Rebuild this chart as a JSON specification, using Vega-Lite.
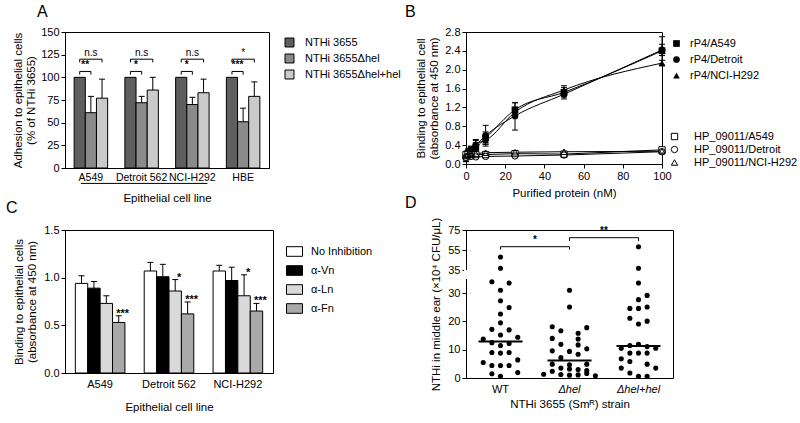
{
  "$schema": "https://vega.github.io/schema/vega-lite/v6.json",
  "background": "white",
  "padding": {"left": 5, "top": 3, "right": 2, "bottom": 2},
  "config": {
    "font": "Liberation Sans",
    "view": {"stroke": "black", "strokeWidth": 1},
    "text": {"color": "black"},
    "axis": {"domainColor": "black", "tickColor": "black", "labelColor": "black", "titleColor": "black", "labelFontSize": 11, "titleFontSize": 11.5, "titleFontWeight": "normal", "grid": false, "tickSize": 4, "labelPadding": 2, "labelOverlap": false},
    "legend": {"labelFontSize": 11, "labelColor": "black", "labelFont": "Liberation Sans"},
    "title": {"fontSize": 16, "fontWeight": "normal", "anchor": "start", "frame": "group", "color": "black"}
  },
  "datasets": {
    "adhesion": [
      {"cell": "A549", "strain": "NTHi 3655", "mean": 100, "upper": null},
      {"cell": "A549", "strain": "NTHi 3655Δhel", "mean": 61, "upper": 79},
      {"cell": "A549", "strain": "NTHi 3655Δhel+hel", "mean": 77, "upper": 98},
      {"cell": "Detroit 562", "strain": "NTHi 3655", "mean": 100, "upper": null},
      {"cell": "Detroit 562", "strain": "NTHi 3655Δhel", "mean": 72, "upper": 79},
      {"cell": "Detroit 562", "strain": "NTHi 3655Δhel+hel", "mean": 86, "upper": 100},
      {"cell": "NCI-H292", "strain": "NTHi 3655", "mean": 100, "upper": null},
      {"cell": "NCI-H292", "strain": "NTHi 3655Δhel", "mean": 70, "upper": 78},
      {"cell": "NCI-H292", "strain": "NTHi 3655Δhel+hel", "mean": 83, "upper": 98},
      {"cell": "HBE", "strain": "NTHi 3655", "mean": 100, "upper": null},
      {"cell": "HBE", "strain": "NTHi 3655Δhel", "mean": 51, "upper": 66},
      {"cell": "HBE", "strain": "NTHi 3655Δhel+hel", "mean": 79, "upper": 95}
    ],
    "aBrackets": [
      {"id": "A549-l", "cell": "A549", "strain": "NTHi 3655", "y": 103, "ord": 0},
      {"id": "A549-l", "cell": "A549", "strain": "NTHi 3655", "y": 106.5, "ord": 1},
      {"id": "A549-l", "cell": "A549", "strain": "NTHi 3655Δhel", "y": 106.5, "ord": 2},
      {"id": "A549-l", "cell": "A549", "strain": "NTHi 3655Δhel", "y": 103, "ord": 3},
      {"id": "A549-u", "cell": "A549", "strain": "NTHi 3655", "y": 116.5, "ord": 0},
      {"id": "A549-u", "cell": "A549", "strain": "NTHi 3655", "y": 120, "ord": 1},
      {"id": "A549-u", "cell": "A549", "strain": "NTHi 3655Δhel+hel", "y": 120, "ord": 2},
      {"id": "A549-u", "cell": "A549", "strain": "NTHi 3655Δhel+hel", "y": 116.5, "ord": 3},
      {"id": "Det-l", "cell": "Detroit 562", "strain": "NTHi 3655", "y": 103, "ord": 0},
      {"id": "Det-l", "cell": "Detroit 562", "strain": "NTHi 3655", "y": 106.5, "ord": 1},
      {"id": "Det-l", "cell": "Detroit 562", "strain": "NTHi 3655Δhel", "y": 106.5, "ord": 2},
      {"id": "Det-l", "cell": "Detroit 562", "strain": "NTHi 3655Δhel", "y": 103, "ord": 3},
      {"id": "Det-u", "cell": "Detroit 562", "strain": "NTHi 3655", "y": 116.5, "ord": 0},
      {"id": "Det-u", "cell": "Detroit 562", "strain": "NTHi 3655", "y": 120, "ord": 1},
      {"id": "Det-u", "cell": "Detroit 562", "strain": "NTHi 3655Δhel+hel", "y": 120, "ord": 2},
      {"id": "Det-u", "cell": "Detroit 562", "strain": "NTHi 3655Δhel+hel", "y": 116.5, "ord": 3},
      {"id": "NCI-l", "cell": "NCI-H292", "strain": "NTHi 3655", "y": 103, "ord": 0},
      {"id": "NCI-l", "cell": "NCI-H292", "strain": "NTHi 3655", "y": 106.5, "ord": 1},
      {"id": "NCI-l", "cell": "NCI-H292", "strain": "NTHi 3655Δhel", "y": 106.5, "ord": 2},
      {"id": "NCI-l", "cell": "NCI-H292", "strain": "NTHi 3655Δhel", "y": 103, "ord": 3},
      {"id": "NCI-u", "cell": "NCI-H292", "strain": "NTHi 3655", "y": 116.5, "ord": 0},
      {"id": "NCI-u", "cell": "NCI-H292", "strain": "NTHi 3655", "y": 120, "ord": 1},
      {"id": "NCI-u", "cell": "NCI-H292", "strain": "NTHi 3655Δhel+hel", "y": 120, "ord": 2},
      {"id": "NCI-u", "cell": "NCI-H292", "strain": "NTHi 3655Δhel+hel", "y": 116.5, "ord": 3},
      {"id": "HBE-l", "cell": "HBE", "strain": "NTHi 3655", "y": 103, "ord": 0},
      {"id": "HBE-l", "cell": "HBE", "strain": "NTHi 3655", "y": 106.5, "ord": 1},
      {"id": "HBE-l", "cell": "HBE", "strain": "NTHi 3655Δhel", "y": 106.5, "ord": 2},
      {"id": "HBE-l", "cell": "HBE", "strain": "NTHi 3655Δhel", "y": 103, "ord": 3},
      {"id": "HBE-u", "cell": "HBE", "strain": "NTHi 3655", "y": 116.5, "ord": 0},
      {"id": "HBE-u", "cell": "HBE", "strain": "NTHi 3655", "y": 120, "ord": 1},
      {"id": "HBE-u", "cell": "HBE", "strain": "NTHi 3655Δhel+hel", "y": 120, "ord": 2},
      {"id": "HBE-u", "cell": "HBE", "strain": "NTHi 3655Δhel+hel", "y": 116.5, "ord": 3}
    ],
    "aPairLabels": [
      {"cell": "A549", "strain": "NTHi 3655", "y": 106.5, "label": "**"},
      {"cell": "Detroit 562", "strain": "NTHi 3655", "y": 106.5, "label": "*"},
      {"cell": "NCI-H292", "strain": "NTHi 3655", "y": 106.5, "label": "*"},
      {"cell": "HBE", "strain": "NTHi 3655", "y": 106.5, "label": "***"}
    ],
    "aSpanLabels": [
      {"cell": "A549", "strain": "NTHi 3655Δhel", "y": 120, "label": "n.s"},
      {"cell": "Detroit 562", "strain": "NTHi 3655Δhel", "y": 120, "label": "n.s"},
      {"cell": "NCI-H292", "strain": "NTHi 3655Δhel", "y": 120, "label": "n.s"},
      {"cell": "HBE", "strain": "NTHi 3655Δhel", "y": 120, "label": "*"}
    ],
    "aUnderline": [{"from": "A549", "to": "NCI-H292", "y": -17}],
    "rp4": [
      {"series": "rP4/A549", "conc": 0, "mean": 0.15, "lo": 0.1, "hi": 0.2},
      {"series": "rP4/A549", "conc": 1, "mean": 0.2, "lo": 0.14, "hi": 0.26},
      {"series": "rP4/A549", "conc": 2.5, "mean": 0.28, "lo": 0.2, "hi": 0.36},
      {"series": "rP4/A549", "conc": 5, "mean": 0.35, "lo": 0.25, "hi": 0.45},
      {"series": "rP4/A549", "conc": 10, "mean": 0.55, "lo": 0.42, "hi": 0.68},
      {"series": "rP4/A549", "conc": 25, "mean": 1.15, "lo": 1.0, "hi": 1.3},
      {"series": "rP4/A549", "conc": 50, "mean": 1.52, "lo": 1.42, "hi": 1.62},
      {"series": "rP4/A549", "conc": 100, "mean": 2.4, "lo": 2.1, "hi": 2.7},
      {"series": "rP4/Detroit", "conc": 0, "mean": 0.14, "lo": 0.1, "hi": 0.18},
      {"series": "rP4/Detroit", "conc": 1, "mean": 0.25, "lo": 0.18, "hi": 0.32},
      {"series": "rP4/Detroit", "conc": 2.5, "mean": 0.3, "lo": 0.22, "hi": 0.38},
      {"series": "rP4/Detroit", "conc": 5, "mean": 0.4, "lo": 0.3, "hi": 0.5},
      {"series": "rP4/Detroit", "conc": 10, "mean": 0.6, "lo": 0.38, "hi": 0.82},
      {"series": "rP4/Detroit", "conc": 25, "mean": 1.02, "lo": 0.72, "hi": 1.3},
      {"series": "rP4/Detroit", "conc": 50, "mean": 1.48, "lo": 1.38, "hi": 1.58},
      {"series": "rP4/Detroit", "conc": 100, "mean": 2.42, "lo": 2.3, "hi": 2.54},
      {"series": "rP4/NCI-H292", "conc": 0, "mean": 0.1, "lo": 0.06, "hi": 0.14},
      {"series": "rP4/NCI-H292", "conc": 1, "mean": 0.21, "lo": 0.15, "hi": 0.27},
      {"series": "rP4/NCI-H292", "conc": 2.5, "mean": 0.3, "lo": 0.24, "hi": 0.36},
      {"series": "rP4/NCI-H292", "conc": 5, "mean": 0.43, "lo": 0.36, "hi": 0.52},
      {"series": "rP4/NCI-H292", "conc": 10, "mean": 0.5, "lo": 0.42, "hi": 0.58},
      {"series": "rP4/NCI-H292", "conc": 25, "mean": 1.1, "lo": 1.0, "hi": 1.2},
      {"series": "rP4/NCI-H292", "conc": 50, "mean": 1.57, "lo": 1.5, "hi": 1.66},
      {"series": "rP4/NCI-H292", "conc": 100, "mean": 2.14, "lo": 2.08, "hi": 2.2}
    ],
    "hp": [
      {"series": "HP_09011/A549", "conc": 0, "mean": 0.2},
      {"series": "HP_09011/A549", "conc": 1, "mean": 0.22},
      {"series": "HP_09011/A549", "conc": 2.5, "mean": 0.2},
      {"series": "HP_09011/A549", "conc": 5, "mean": 0.2},
      {"series": "HP_09011/A549", "conc": 10, "mean": 0.2},
      {"series": "HP_09011/A549", "conc": 25, "mean": 0.22},
      {"series": "HP_09011/A549", "conc": 50, "mean": 0.21},
      {"series": "HP_09011/A549", "conc": 100, "mean": 0.3},
      {"series": "HP_09011/Detroit", "conc": 0, "mean": 0.14},
      {"series": "HP_09011/Detroit", "conc": 1, "mean": 0.17},
      {"series": "HP_09011/Detroit", "conc": 2.5, "mean": 0.16},
      {"series": "HP_09011/Detroit", "conc": 5, "mean": 0.15},
      {"series": "HP_09011/Detroit", "conc": 10, "mean": 0.16},
      {"series": "HP_09011/Detroit", "conc": 25, "mean": 0.17},
      {"series": "HP_09011/Detroit", "conc": 50, "mean": 0.19},
      {"series": "HP_09011/Detroit", "conc": 100, "mean": 0.26},
      {"series": "HP_09011/NCI-H292", "conc": 0, "mean": 0.17},
      {"series": "HP_09011/NCI-H292", "conc": 1, "mean": 0.2},
      {"series": "HP_09011/NCI-H292", "conc": 2.5, "mean": 0.22},
      {"series": "HP_09011/NCI-H292", "conc": 5, "mean": 0.22},
      {"series": "HP_09011/NCI-H292", "conc": 10, "mean": 0.24},
      {"series": "HP_09011/NCI-H292", "conc": 25, "mean": 0.25},
      {"series": "HP_09011/NCI-H292", "conc": 50, "mean": 0.26},
      {"series": "HP_09011/NCI-H292", "conc": 100, "mean": 0.27}
    ],
    "inhib": [
      {"cell": "A549", "treat": "No Inhibition", "mean": 0.94, "upper": 1.02},
      {"cell": "A549", "treat": "α-Vn", "mean": 0.89, "upper": 0.96},
      {"cell": "A549", "treat": "α-Ln", "mean": 0.73, "upper": 0.81},
      {"cell": "A549", "treat": "α-Fn", "mean": 0.53, "upper": 0.6},
      {"cell": "Detroit 562", "treat": "No Inhibition", "mean": 1.07, "upper": 1.16},
      {"cell": "Detroit 562", "treat": "α-Vn", "mean": 1.01, "upper": 1.14},
      {"cell": "Detroit 562", "treat": "α-Ln", "mean": 0.86, "upper": 0.98},
      {"cell": "Detroit 562", "treat": "α-Fn", "mean": 0.62, "upper": 0.745},
      {"cell": "NCI-H292", "treat": "No Inhibition", "mean": 1.07, "upper": 1.13},
      {"cell": "NCI-H292", "treat": "α-Vn", "mean": 0.97, "upper": 1.11},
      {"cell": "NCI-H292", "treat": "α-Ln", "mean": 0.81, "upper": 1.03},
      {"cell": "NCI-H292", "treat": "α-Fn", "mean": 0.65, "upper": 0.73}
    ],
    "cStars": [
      {"cell": "A549", "treat": "α-Fn", "y": 0.6, "label": "***"},
      {"cell": "Detroit 562", "treat": "α-Ln", "y": 0.98, "label": "*"},
      {"cell": "Detroit 562", "treat": "α-Fn", "y": 0.745, "label": "***"},
      {"cell": "NCI-H292", "treat": "α-Ln", "y": 1.03, "label": "*"},
      {"cell": "NCI-H292", "treat": "α-Fn", "y": 0.73, "label": "***"}
    ],
    "dPoints": [
      {"strain": "WT", "cfu": 48, "col": 0}, {"strain": "WT", "cfu": 36.7, "col": 0},
      {"strain": "WT", "cfu": 34, "col": -1}, {"strain": "WT", "cfu": 33.6, "col": 1},
      {"strain": "WT", "cfu": 31, "col": 0}, {"strain": "WT", "cfu": 27.3, "col": 0},
      {"strain": "WT", "cfu": 24.9, "col": 1}, {"strain": "WT", "cfu": 22.6, "col": 0},
      {"strain": "WT", "cfu": 19.5, "col": 0}, {"strain": "WT", "cfu": 17.2, "col": -1},
      {"strain": "WT", "cfu": 17, "col": 1}, {"strain": "WT", "cfu": 15.2, "col": 0},
      {"strain": "WT", "cfu": 13.8, "col": -2}, {"strain": "WT", "cfu": 14.4, "col": 2},
      {"strain": "WT", "cfu": 12.5, "col": -1}, {"strain": "WT", "cfu": 12.2, "col": 1},
      {"strain": "WT", "cfu": 11.5, "col": 0}, {"strain": "WT", "cfu": 9, "col": -1},
      {"strain": "WT", "cfu": 8.8, "col": 0}, {"strain": "WT", "cfu": 9, "col": 1},
      {"strain": "WT", "cfu": 6.4, "col": 2}, {"strain": "WT", "cfu": 5.5, "col": -2},
      {"strain": "WT", "cfu": 4.4, "col": -1}, {"strain": "WT", "cfu": 4.4, "col": 0},
      {"strain": "WT", "cfu": 4.4, "col": 1}, {"strain": "WT", "cfu": 1.5, "col": -1},
      {"strain": "WT", "cfu": 0.6, "col": 0}, {"strain": "WT", "cfu": 1.9, "col": 2},
      {"strain": "Δhel", "cfu": 31, "col": 0}, {"strain": "Δhel", "cfu": 25.1, "col": 0},
      {"strain": "Δhel", "cfu": 18.1, "col": -2}, {"strain": "Δhel", "cfu": 17.8, "col": 2},
      {"strain": "Δhel", "cfu": 16.7, "col": -1}, {"strain": "Δhel", "cfu": 15.8, "col": 1},
      {"strain": "Δhel", "cfu": 14, "col": -2}, {"strain": "Δhel", "cfu": 13.8, "col": 1},
      {"strain": "Δhel", "cfu": 11.9, "col": -1}, {"strain": "Δhel", "cfu": 11.7, "col": 1},
      {"strain": "Δhel", "cfu": 10.3, "col": 2}, {"strain": "Δhel", "cfu": 9.6, "col": -2},
      {"strain": "Δhel", "cfu": 9.4, "col": 0}, {"strain": "Δhel", "cfu": 8.4, "col": 1},
      {"strain": "Δhel", "cfu": 7.2, "col": -1}, {"strain": "Δhel", "cfu": 4.9, "col": -2},
      {"strain": "Δhel", "cfu": 4.7, "col": 0}, {"strain": "Δhel", "cfu": 4.9, "col": 2},
      {"strain": "Δhel", "cfu": 3.5, "col": -1}, {"strain": "Δhel", "cfu": 3.2, "col": 0},
      {"strain": "Δhel", "cfu": 3, "col": 1}, {"strain": "Δhel", "cfu": 2.4, "col": -2},
      {"strain": "Δhel", "cfu": 2.6, "col": 2}, {"strain": "Δhel", "cfu": 1.3, "col": -3},
      {"strain": "Δhel", "cfu": 1.2, "col": -1}, {"strain": "Δhel", "cfu": 1, "col": 0},
      {"strain": "Δhel", "cfu": 1.1, "col": 1}, {"strain": "Δhel", "cfu": 0.8, "col": 3},
      {"strain": "Δhel", "cfu": 1.6, "col": 2},
      {"strain": "Δhel+hel", "cfu": 58.3, "col": 0}, {"strain": "Δhel+hel", "cfu": 36.7, "col": 0},
      {"strain": "Δhel+hel", "cfu": 33.6, "col": 0}, {"strain": "Δhel+hel", "cfu": 29.2, "col": 1},
      {"strain": "Δhel+hel", "cfu": 27.7, "col": 0}, {"strain": "Δhel+hel", "cfu": 24.6, "col": -1},
      {"strain": "Δhel+hel", "cfu": 24.6, "col": 0}, {"strain": "Δhel+hel", "cfu": 25.1, "col": 1},
      {"strain": "Δhel+hel", "cfu": 21.1, "col": -1}, {"strain": "Δhel+hel", "cfu": 20.1, "col": 1},
      {"strain": "Δhel+hel", "cfu": 19.1, "col": 0}, {"strain": "Δhel+hel", "cfu": 11.9, "col": 0},
      {"strain": "Δhel+hel", "cfu": 11.5, "col": -1}, {"strain": "Δhel+hel", "cfu": 11.1, "col": 1},
      {"strain": "Δhel+hel", "cfu": 10.5, "col": -2}, {"strain": "Δhel+hel", "cfu": 10.5, "col": 2},
      {"strain": "Δhel+hel", "cfu": 8.8, "col": -1}, {"strain": "Δhel+hel", "cfu": 8.8, "col": 0},
      {"strain": "Δhel+hel", "cfu": 8.8, "col": 1}, {"strain": "Δhel+hel", "cfu": 6.8, "col": -2},
      {"strain": "Δhel+hel", "cfu": 5.8, "col": -1}, {"strain": "Δhel+hel", "cfu": 4.9, "col": 1},
      {"strain": "Δhel+hel", "cfu": 3.5, "col": -2}, {"strain": "Δhel+hel", "cfu": 3.5, "col": 2},
      {"strain": "Δhel+hel", "cfu": 1.75, "col": -1}, {"strain": "Δhel+hel", "cfu": 0.6, "col": 0},
      {"strain": "Δhel+hel", "cfu": 0.6, "col": 1}
    ],
    "dMedian": [
      {"strain": "WT", "cfu": 12.9},
      {"strain": "Δhel", "cfu": 6.2},
      {"strain": "Δhel+hel", "cfu": 11.3}
    ],
    "dBrackets": [
      {"id": "b1", "strain": "WT", "cfu": 55.5, "ord": 0},
      {"id": "b1", "strain": "WT", "cfu": 58.3, "ord": 1},
      {"id": "b1", "strain": "Δhel", "cfu": 58.3, "ord": 2},
      {"id": "b1", "strain": "Δhel", "cfu": 55.5, "ord": 3},
      {"id": "b2", "strain": "Δhel", "cfu": 64, "ord": 0},
      {"id": "b2", "strain": "Δhel", "cfu": 67.3, "ord": 1},
      {"id": "b2", "strain": "Δhel+hel", "cfu": 67.3, "ord": 2},
      {"id": "b2", "strain": "Δhel+hel", "cfu": 64, "ord": 3}
    ],
    "dLabels": [
      {"strain": "WT", "cfu": 58.3, "label": "*"},
      {"strain": "Δhel", "cfu": 67.3, "label": "**"}
    ],
    "dBreak": [{"strain": "WT", "from": 34.99, "to": 35}]
  },
  "columns": 2,
  "bounds": "flush",
  "align": "each",
  "spacing": {"row": 62, "column": 193},
  "resolve": {"scale": {"xOffset": "independent", "fill": "independent", "shape": "independent"}, "legend": {"fill": "independent", "shape": "independent"}},
  "concat": [
    {
      "width": 204,
      "height": 136,
      "title": {"text": "A", "dx": -28, "offset": 6},
      "layer": [
        {
          "data": {"name": "adhesion"},
          "mark": {"type": "bar", "stroke": "black", "strokeWidth": 1},
          "encoding": {
            "x": {"field": "cell", "type": "nominal", "scale": {"domain": ["A549", "Detroit 562", "NCI-H292", "HBE"], "paddingInner": 0.34, "paddingOuter": 0.18}, "axis": {"title": "Epithelial cell line", "labelAngle": 0, "ticks": false, "titlePadding": 10, "labelPadding": 4, "labelFontSize": 10.5, "labelOverlap": false}},
            "xOffset": {"field": "strain", "type": "nominal", "scale": {"domain": ["NTHi 3655", "NTHi 3655Δhel", "NTHi 3655Δhel+hel"], "paddingInner": 0, "paddingOuter": 0}},
            "y": {"field": "mean", "type": "quantitative", "scale": {"domain": [0, 150], "nice": false}, "axis": {"values": [0, 25, 50, 75, 100, 125, 150], "tickCount": 20, "title": ["Adhesion to epithelial cells", "(% of NTHi 3655)"], "titlePadding": 4, "labelOverlap": false}},
            "fill": {"field": "strain", "type": "nominal", "scale": {"domain": ["NTHi 3655", "NTHi 3655Δhel", "NTHi 3655Δhel+hel"], "range": ["#5f5f5f", "#8a8a8a", "#cacaca"]}, "legend": {"title": null, "offset": 10, "padding": 5, "symbolType": "square", "symbolSize": 80, "symbolStrokeColor": "black", "symbolStrokeWidth": 1, "rowPadding": 3, "labelOffset": 10}}
          }
        },
        {
          "data": {"name": "adhesion"},
          "transform": [{"filter": "datum.upper != null"}],
          "mark": {"type": "rule", "color": "black", "strokeWidth": 1},
          "encoding": {
            "x": {"field": "cell", "type": "nominal"},
            "xOffset": {"field": "strain", "type": "nominal"},
            "y": {"field": "mean", "type": "quantitative"},
            "y2": {"field": "upper"}
          }
        },
        {
          "data": {"name": "adhesion"},
          "transform": [{"filter": "datum.upper != null"}],
          "mark": {"type": "tick", "color": "black", "orient": "horizontal", "size": 6, "thickness": 1, "opacity": 1},
          "encoding": {
            "x": {"field": "cell", "type": "nominal"},
            "xOffset": {"field": "strain", "type": "nominal"},
            "y": {"field": "upper", "type": "quantitative"}
          }
        },
        {
          "data": {"name": "aBrackets"},
          "mark": {"type": "line", "color": "black", "strokeWidth": 1},
          "encoding": {
            "x": {"field": "cell", "type": "nominal"},
            "xOffset": {"field": "strain", "type": "nominal"},
            "y": {"field": "y", "type": "quantitative"},
            "detail": {"field": "id"},
            "order": {"field": "ord"}
          }
        },
        {
          "data": {"name": "aPairLabels"},
          "mark": {"type": "text", "color": "black", "baseline": "bottom", "dy": -1, "dx": 5.5, "fontSize": 10, "fontWeight": "bold"},
          "encoding": {
            "x": {"field": "cell", "type": "nominal"},
            "xOffset": {"field": "strain", "type": "nominal"},
            "y": {"field": "y", "type": "quantitative"},
            "text": {"field": "label"}
          }
        },
        {
          "data": {"name": "aSpanLabels"},
          "mark": {"type": "text", "color": "black", "baseline": "bottom", "dy": -1, "fontSize": 10},
          "encoding": {
            "x": {"field": "cell", "type": "nominal"},
            "xOffset": {"field": "strain", "type": "nominal"},
            "y": {"field": "y", "type": "quantitative"},
            "text": {"field": "label"}
          }
        },
        {
          "data": {"name": "aUnderline"},
          "mark": {"type": "rule", "color": "black", "strokeWidth": 1, "clip": false},
          "encoding": {
            "x": {"field": "from", "type": "nominal", "bandPosition": 0.2},
            "x2": {"field": "to", "bandPosition": 0.95},
            "y": {"field": "y", "type": "quantitative"}
          }
        }
      ]
    },
    {
      "width": 196,
      "height": 132,
      "title": {"text": "B", "dx": -61, "offset": 6},
      "layer": [
        {
          "data": {"name": "rp4"},
          "mark": {"type": "rule", "color": "black", "strokeWidth": 1},
          "encoding": {
            "x": {"field": "conc", "type": "quantitative", "scale": {"domain": [0, 100], "nice": false}, "axis": {"values": [0, 20, 40, 60, 80, 100], "tickCount": 20, "title": "Purified protein (nM)", "titlePadding": 6, "labelOverlap": false, "labelFlush": false}},
            "y": {"field": "lo", "type": "quantitative", "scale": {"domain": [0, 2.8], "nice": false}, "axis": {"values": [0, 0.4, 0.8, 1.2, 1.6, 2.0, 2.4, 2.8], "tickCount": 20, "format": ".1f", "title": ["Binding to epithelial cell", "(absorbance at 450 nm)"], "titlePadding": 5, "labelOverlap": false, "labelFlush": false}},
            "y2": {"field": "hi"},
            "detail": {"field": "series"}
          }
        },
        {
          "data": {"name": "rp4"},
          "mark": {"type": "tick", "color": "black", "orient": "horizontal", "size": 6, "thickness": 1, "opacity": 1},
          "encoding": {
            "x": {"field": "conc", "type": "quantitative"},
            "y": {"field": "hi", "type": "quantitative"}
          }
        },
        {
          "data": {"name": "rp4"},
          "mark": {"type": "tick", "color": "black", "orient": "horizontal", "size": 6, "thickness": 1, "opacity": 1},
          "encoding": {
            "x": {"field": "conc", "type": "quantitative"},
            "y": {"field": "lo", "type": "quantitative"}
          }
        },
        {
          "data": {"name": "rp4"},
          "mark": {"type": "line", "color": "black", "strokeWidth": 1, "interpolate": "monotone"},
          "encoding": {
            "x": {"field": "conc", "type": "quantitative"},
            "y": {"field": "mean", "type": "quantitative"},
            "detail": {"field": "series"}
          }
        },
        {
          "data": {"name": "hp"},
          "mark": {"type": "line", "color": "black", "strokeWidth": 1},
          "encoding": {
            "x": {"field": "conc", "type": "quantitative"},
            "y": {"field": "mean", "type": "quantitative"},
            "detail": {"field": "series"}
          }
        },
        {
          "data": {"name": "rp4"},
          "mark": {"type": "point", "filled": true, "color": "black", "size": 45, "opacity": 1},
          "encoding": {
            "x": {"field": "conc", "type": "quantitative"},
            "y": {"field": "mean", "type": "quantitative"},
            "shape": {"field": "series", "type": "nominal", "scale": {"domain": ["rP4/A549", "rP4/Detroit", "rP4/NCI-H292"], "range": ["square", "circle", "triangle-up"]}, "legend": {"title": null, "orient": "none", "legendX": 205, "legendY": 6, "symbolFillColor": "black", "symbolStrokeColor": "black", "symbolSize": 45, "rowPadding": 3, "labelOffset": 8}}
          }
        },
        {
          "data": {"name": "hp"},
          "mark": {"type": "point", "filled": true, "color": "white", "size": 40, "opacity": 1},
          "encoding": {
            "x": {"field": "conc", "type": "quantitative"},
            "y": {"field": "mean", "type": "quantitative"},
            "shape": {"field": "series", "type": "nominal", "scale": {"domain": ["HP_09011/A549", "HP_09011/Detroit", "HP_09011/NCI-H292"], "range": ["square", "circle", "triangle-up"]}, "legend": null}
          }
        },
        {
          "data": {"name": "hp"},
          "mark": {"type": "point", "filled": false, "color": "black", "strokeWidth": 1, "size": 40, "opacity": 1},
          "encoding": {
            "x": {"field": "conc", "type": "quantitative"},
            "y": {"field": "mean", "type": "quantitative"},
            "shape": {"field": "series", "type": "nominal", "scale": {"domain": ["HP_09011/A549", "HP_09011/Detroit", "HP_09011/NCI-H292"], "range": ["square", "circle", "triangle-up"]}, "legend": {"title": null, "orient": "none", "legendX": 203, "legendY": 99, "symbolSize": 40, "symbolStrokeWidth": 1, "rowPadding": 1, "labelOffset": 14}}
          }
        }
      ],
      "resolve": {"scale": {"shape": "independent"}, "legend": {"shape": "independent"}}
    },
    {
      "width": 208,
      "height": 143,
      "title": {"text": "C", "dx": -59, "offset": 8},
      "layer": [
        {
          "data": {"name": "inhib"},
          "mark": {"type": "bar", "stroke": "black", "strokeWidth": 1},
          "encoding": {
            "x": {"field": "cell", "type": "nominal", "scale": {"domain": ["A549", "Detroit 562", "NCI-H292"], "paddingInner": 0.28, "paddingOuter": 0.15}, "axis": {"title": "Epithelial cell line", "labelAngle": 0, "ticks": false, "titlePadding": 12, "labelPadding": 5, "labelOverlap": false}},
            "xOffset": {"field": "treat", "type": "nominal", "scale": {"domain": ["No Inhibition", "α-Vn", "α-Ln", "α-Fn"], "paddingInner": 0, "paddingOuter": 0}},
            "y": {"field": "mean", "type": "quantitative", "scale": {"domain": [0, 1.5], "nice": false}, "axis": {"values": [0, 0.5, 1.0, 1.5], "tickCount": 20, "format": ".1f", "title": ["Binding to epithelial cells", "(absorbance at 450 nm)"], "titlePadding": 6, "labelOverlap": false}},
            "fill": {"field": "treat", "type": "nominal", "scale": {"domain": ["No Inhibition", "α-Vn", "α-Ln", "α-Fn"], "range": ["white", "black", "#d9d9d9", "#a9a9a9"]}, "legend": {"title": null, "offset": 0, "padding": 13, "symbolType": "M-1,-0.6H1V0.6H-1Z", "symbolSize": 256, "symbolStrokeColor": "black", "symbolStrokeWidth": 1, "rowPadding": 3, "labelOffset": 8}}
          }
        },
        {
          "data": {"name": "inhib"},
          "mark": {"type": "rule", "color": "black", "strokeWidth": 1},
          "encoding": {
            "x": {"field": "cell", "type": "nominal"},
            "xOffset": {"field": "treat", "type": "nominal"},
            "y": {"field": "mean", "type": "quantitative"},
            "y2": {"field": "upper"}
          }
        },
        {
          "data": {"name": "inhib"},
          "mark": {"type": "tick", "color": "black", "orient": "horizontal", "size": 6, "thickness": 1, "opacity": 1},
          "encoding": {
            "x": {"field": "cell", "type": "nominal"},
            "xOffset": {"field": "treat", "type": "nominal"},
            "y": {"field": "upper", "type": "quantitative"}
          }
        },
        {
          "data": {"name": "cStars"},
          "mark": {"type": "text", "color": "black", "baseline": "bottom", "dy": 3, "dx": 4, "fontSize": 11, "fontWeight": "bold"},
          "encoding": {
            "x": {"field": "cell", "type": "nominal"},
            "xOffset": {"field": "treat", "type": "nominal"},
            "y": {"field": "y", "type": "quantitative"},
            "text": {"field": "label"}
          }
        }
      ]
    },
    {
      "width": 207,
      "height": 148,
      "title": {"text": "D", "dx": -61, "offset": 6},
      "layer": [
        {
          "data": {"name": "dPoints"},
          "mark": {"type": "circle", "color": "black", "size": 26, "opacity": 1},
          "encoding": {
            "x": {"field": "strain", "type": "nominal", "scale": {"type": "band", "domain": ["WT", "Δhel", "Δhel+hel"], "paddingInner": 0, "paddingOuter": 0}, "axis": {"title": "NTHi 3655 (Smᴿ) strain", "labelAngle": 0, "ticks": false, "titlePadding": 4, "labelPadding": 5, "labelOverlap": false, "labelFontStyle": {"condition": {"test": "datum.value === 'WT'", "value": "normal"}, "value": "italic"}}},
            "xOffset": {"field": "col", "type": "ordinal", "scale": {"domain": [-4, -3, -2, -1, 0, 1, 2, 3, 4], "paddingInner": 0, "paddingOuter": 0}},
            "y": {"field": "cfu", "type": "quantitative", "scale": {"domain": [0, 34.99, 35, 75], "range": [148, 49, 40, 0], "nice": false, "zero": false}, "axis": {"values": [0, 10, 20, 30, 35, 55, 75], "tickCount": 20, "title": "NTHi in middle ear (×10⁴ CFU/μL)", "titlePadding": 6, "labelOverlap": false, "labelFlush": false}}
          }
        },
        {
          "data": {"name": "dMedian"},
          "mark": {"type": "tick", "color": "black", "orient": "horizontal", "size": 44, "thickness": 2, "opacity": 1},
          "encoding": {
            "x": {"field": "strain", "type": "nominal"},
            "y": {"field": "cfu", "type": "quantitative"}
          }
        },
        {
          "data": {"name": "dBrackets"},
          "mark": {"type": "line", "color": "black", "strokeWidth": 1},
          "encoding": {
            "x": {"field": "strain", "type": "nominal"},
            "y": {"field": "cfu", "type": "quantitative"},
            "detail": {"field": "id"},
            "order": {"field": "ord"}
          }
        },
        {
          "data": {"name": "dLabels"},
          "mark": {"type": "text", "color": "black", "baseline": "bottom", "dy": -2, "dx": 34.5, "fontSize": 10, "fontWeight": "bold"},
          "encoding": {
            "x": {"field": "strain", "type": "nominal"},
            "y": {"field": "cfu", "type": "quantitative"},
            "text": {"field": "label"}
          }
        },
        {
          "data": {"name": "dBreak"},
          "mark": {"type": "rule", "color": "white", "strokeWidth": 4, "clip": false},
          "encoding": {
            "x": {"field": "strain", "type": "nominal", "bandPosition": 0},
            "y": {"field": "from", "type": "quantitative"},
            "y2": {"field": "to"}
          }
        }
      ]
    }
  ]
}
